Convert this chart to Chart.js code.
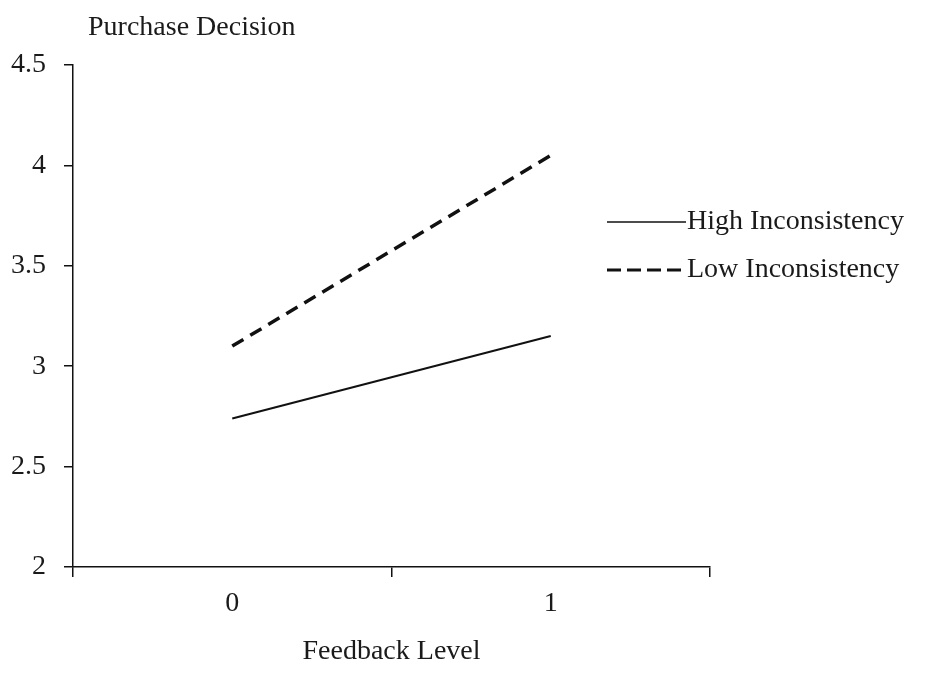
<!DOCTYPE html>
<html>
<head>
<meta charset="utf-8">
<script src="https://cdn.jsdelivr.net/npm/chart.js@4/dist/chart.umd.min.js"></script>
<style>
  html, body { margin: 0; padding: 0; background: #ffffff; }
  #wrap { width: 926px; height: 686px; position: relative; }
</style>
</head>
<body>
<div id="wrap"><canvas id="c" width="926" height="686"></canvas></div>
<script>
const categories = ['0', '1'];
const highInconsistency = [2.74, 3.15];
const lowInconsistency = [3.10, 4.05];
const yTicks = [2, 2.5, 3, 3.5, 4, 4.5];
const yTitle = 'Purchase Decision';
const xTitle = 'Feedback Level';
const seriesNames = ['High Inconsistency', 'Low Inconsistency'];

const FONT = "'Liberation Serif', 'Times New Roman', serif";
const FS = 28;
const INK = '#1a1a1a';

const topTitlePlugin = {
  id: 'topTitle',
  afterDraw(chart) {
    const ctx = chart.ctx;
    ctx.save();
    ctx.font = FS + 'px ' + FONT;
    ctx.fillStyle = INK;
    ctx.textAlign = 'left';
    ctx.textBaseline = 'middle';
    ctx.fillText(yTitle, 88, 28);
    ctx.restore();
  }
};

const sideLegendPlugin = {
  id: 'sideLegend',
  afterDraw(chart) {
    const ctx = chart.ctx;
    const rows = [222, 270];
    ctx.save();
    chart.data.datasets.forEach((ds, i) => {
      const y = rows[i];
      ctx.beginPath();
      ctx.strokeStyle = ds.borderColor;
      ctx.lineWidth = i === 0 ? 1.6 : 3;
      ctx.setLineDash(i === 0 ? [] : [14, 6]);
      ctx.moveTo(607, y);
      ctx.lineTo(i === 0 ? 686 : 682, y);
      ctx.stroke();
      ctx.setLineDash([]);
      ctx.font = FS + 'px ' + FONT;
      ctx.fillStyle = INK;
      ctx.textAlign = 'left';
      ctx.textBaseline = 'middle';
      ctx.fillText(ds.label, 687, y);
    });
    ctx.restore();
  }
};

new Chart(document.getElementById('c'), {
  type: 'line',
  data: {
    labels: categories,
    datasets: [
      {
        label: seriesNames[0],
        data: highInconsistency,
        borderColor: '#111111',
        borderWidth: 2,
        pointRadius: 0,
        tension: 0,
        fill: false
      },
      {
        label: seriesNames[1],
        data: lowInconsistency,
        borderColor: '#111111',
        borderWidth: 3.5,
        borderDash: [13, 8],
        pointRadius: 0,
        tension: 0,
        fill: false
      }
    ]
  },
  options: {
    responsive: false,
    animation: false,
    devicePixelRatio: 1,
    layout: { padding: { left: 0, right: 216, top: 65, bottom: 0 } },
    plugins: {
      legend: { display: false },
      title: { display: false },
      tooltip: { enabled: false }
    },
    scales: {
      x: {
        type: 'category',
        offset: true,
        grid: {
          display: true,
          offset: true,
          drawOnChartArea: false,
          drawTicks: true,
          tickLength: 10,
          color: '#111111',
          lineWidth: 1.5
        },
        border: { display: true, color: '#111111', width: 1.5 },
        ticks: {
          font: { family: FONT, size: FS },
          color: INK,
          padding: 10,
          maxRotation: 0
        },
        title: {
          display: true,
          text: xTitle,
          font: { family: FONT, size: FS },
          color: INK,
          padding: { top: 0, bottom: 18 }
        },
        afterFit(scale) { scale.height = 119; }
      },
      y: {
        type: 'linear',
        min: 2,
        max: 4.5,
        afterBuildTicks(scale) { scale.ticks = yTicks.map(v => ({ value: v })); },
        grid: {
          display: true,
          drawOnChartArea: false,
          drawTicks: true,
          tickLength: 9,
          color: '#111111',
          lineWidth: 1.5
        },
        border: { display: true, color: '#111111', width: 1.5 },
        ticks: {
          font: { family: FONT, size: FS },
          color: INK,
          padding: 18,
          callback: (v) => String(v)
        },
        afterFit(scale) { scale.width = 73; }
      }
    }
  },
  plugins: [topTitlePlugin, sideLegendPlugin]
});
</script>
</body>
</html>
